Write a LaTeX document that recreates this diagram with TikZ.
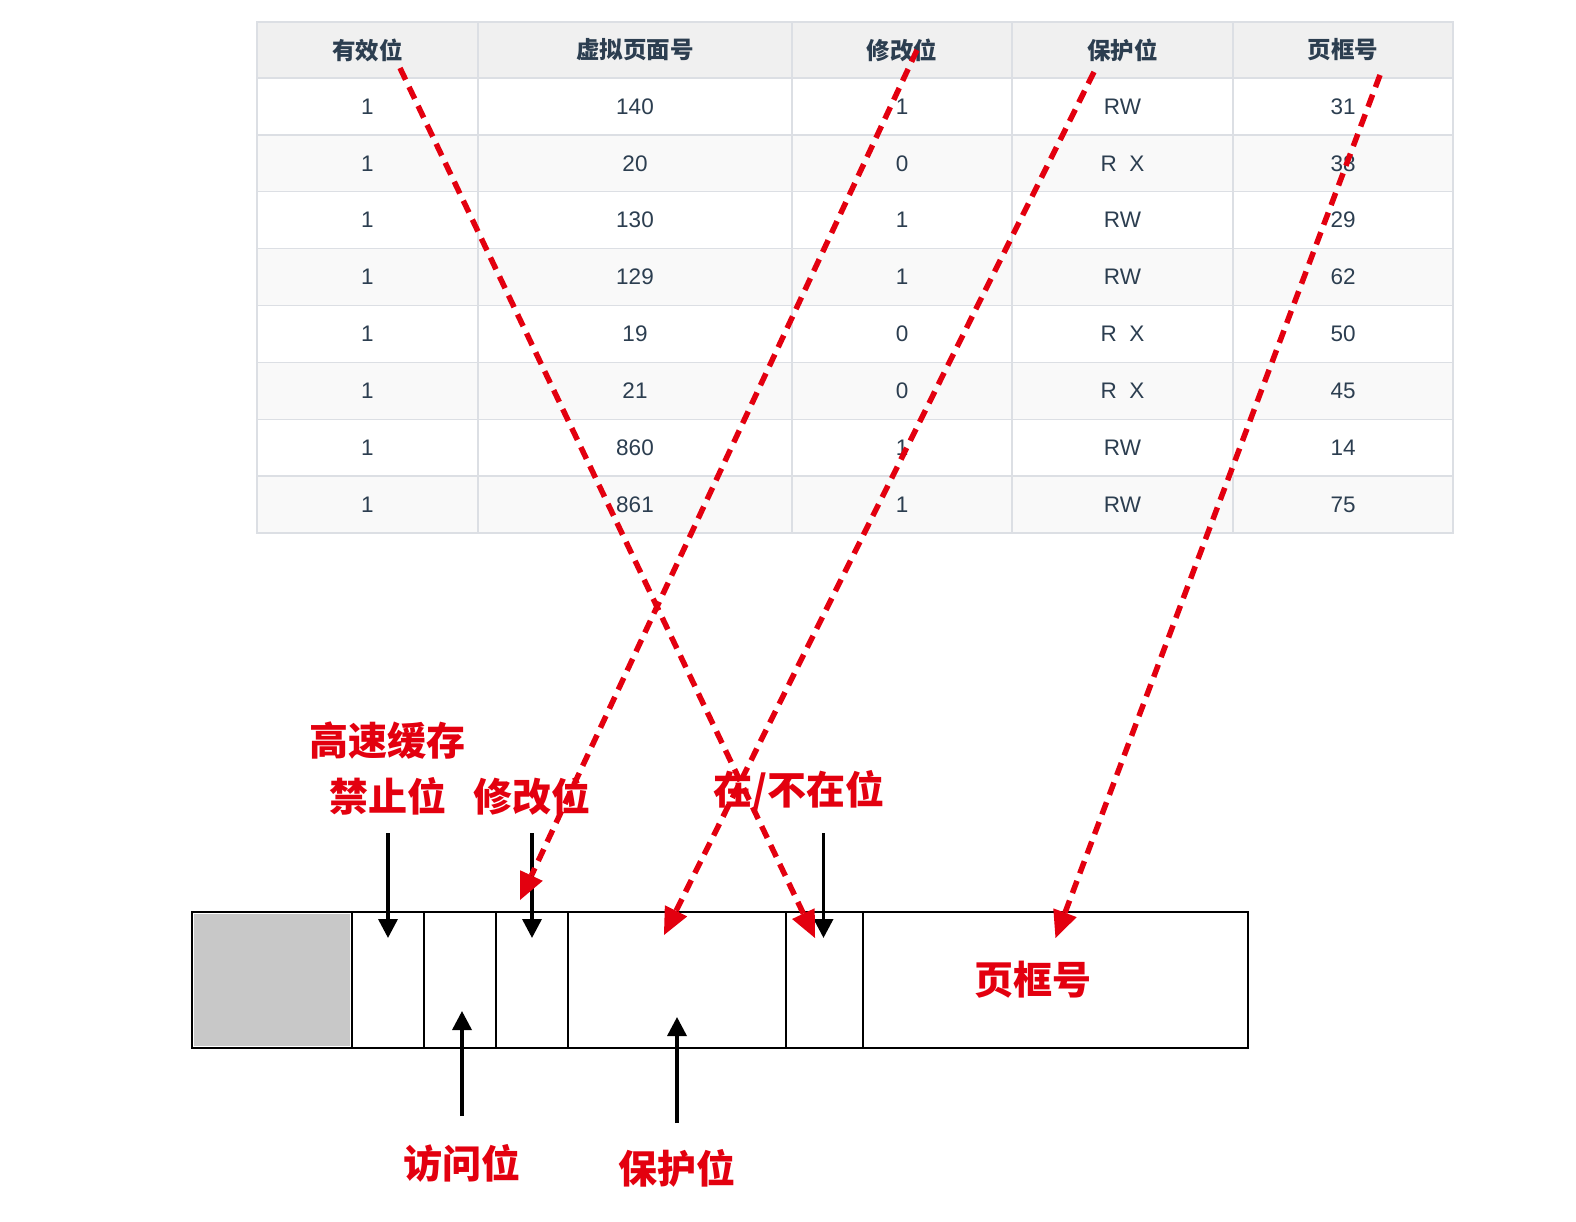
\documentclass[tikz,border=0pt]{standalone}
\usepackage{fontspec}
\setmainfont{Liberation Sans}
\newfontfamily\cjk{Noto Sans CJK SC}
\usetikzlibrary{arrows.meta}
\definecolor{redline}{HTML}{E3000F}
\definecolor{tabtext}{HTML}{2C3E50}
\definecolor{gridgray}{HTML}{DCDFE4}
\definecolor{headgray}{HTML}{F0F0F0}
\definecolor{rowgray}{HTML}{F9F9F9}
\definecolor{cellgray}{HTML}{C8C8C8}

\begin{document}
\begin{tikzpicture}[x=1pt,y=-1pt,
    cell/.style={draw=gridgray,line width=1.5pt,minimum height=56.875pt,inner sep=0pt,text=tabtext,font=\fontsize{22.5}{22.5}\selectfont},
    head cell/.style={cell,fill=headgray,minimum height=56pt,font=\cjk\bfseries\fontsize{23.5}{23.5}\selectfont},
    bit cell/.style={draw,line width=2pt,minimum height=136pt,inner sep=0pt},
    tag/.style={text=redline,font=\cjk\bfseries\fontsize{39}{39}\selectfont,inner sep=0pt},
    pointer/.style={-{Triangle[length=19pt,width=19pt]},line width=3.5pt},
    red pointer/.style={-{Triangle[length=27pt,width=25pt,fill=redline,line width=0pt]},draw=redline,line width=5.5pt,dash pattern=on 13pt off 8pt}]

	\useasboundingbox (0,0) rectangle (1576,1222);

	\foreach \name/\xc/\w [count=\j] in {有效位/367.5/221,虚拟页面号/635/314,修改位/902/220,保护位/1122.5/221,页框号/1343/220}
		\node[head cell,minimum width=\w pt] (h\j) at (\xc,50) {\name};

	\foreach \va/\vb/\vc/\vd/\ve [count=\i] in {1/140/1/RW/31,1/20/0/R\hspace{0.55em}X/38,1/130/1/RW/29,1/129/1/RW/62,
		1/19/0/R\hspace{0.55em}X/50,1/21/0/R\hspace{0.55em}X/45,1/860/1/RW/14,1/861/1/RW/75}{
		\pgfmathsetmacro\yc{78+56.875*(\i-0.5)}
		\ifodd\i \def\rowfill{white}\else \def\rowfill{rowgray}\fi
		\node[cell,fill=\rowfill,minimum width=221pt] (r\i-1) at (367.5,\yc) {\va};
		\node[cell,fill=\rowfill,minimum width=314pt] (r\i-2) at (635,\yc) {\vb};
		\node[cell,fill=\rowfill,minimum width=220pt] (r\i-3) at (902,\yc) {\vc};
		\node[cell,fill=\rowfill,minimum width=221pt] (r\i-4) at (1122.5,\yc) {\vd};
		\node[cell,fill=\rowfill,minimum width=220pt] (r\i-5) at (1343,\yc) {\ve};
	}

	\foreach \xl/\xr [count=\k] in {192/352,352/424,424/496,496/568,568/786,786/863,863/1248}
		\node[bit cell,minimum width={(\xr-\xl)*1pt}] (b\k) at ({(\xl+\xr)/2},980) {};
	\fill[cellgray] ([shift={(3,3)}]b1.north west) rectangle ([shift={(-3,-3)}]b1.south east);

	\node[tag] (cache) at (387,741) {高速缓存};
	\node[tag] (disable) at (388,796) {禁止位};
	\node[tag] (modify) at (532,796) {修改位};
	\node[tag] (present) at (799,791) {在/不在位};
	\node[tag] (frame) at (1033,980) {页框号};
	\node[tag] (access) at (462,1163) {访问位};
	\node[tag] (protect) at (677,1168) {保护位};

	\draw[pointer] ([shift={(0,-78)}]b2.north) -- ([shift={(0,27)}]b2.north);
	\draw[pointer] ([shift={(0,-78)}]b4.north) -- ([shift={(0,27)}]b4.north);
	\draw[pointer] ([shift={(-1,-78)}]b6.north) -- ([shift={(-1,27)}]b6.north);
	\draw[pointer] ([shift={(2,67)}]b3.south) -- ([shift={(2,-38)}]b3.south);
	\draw[pointer] ([shift={(0,74)}]b5.south) -- ([shift={(0,-32)}]b5.south);

	\draw[red pointer] ([shift={(32.5,18)}]h1.center) -- ([shift={(-9.5,27)}]b6.north);
	\draw[red pointer] ([shift={(15,0)}]h3.center) -- ([shift={(-12,-11)}]b4.north);
	\draw[red pointer] ([shift={(-28.5,22)}]h4.center) -- ([shift={(-13,24)}]b5.north);
	\draw[red pointer] ([shift={(37,25)}]h5.center) -- ([shift={(0,27)}]b7.north);

\end{tikzpicture}
\end{document}
